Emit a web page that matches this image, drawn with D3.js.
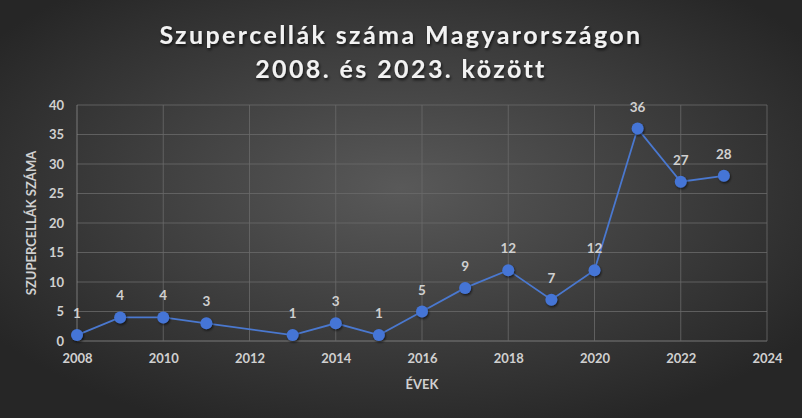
<!DOCTYPE html>
<html><head><meta charset="utf-8">
<script src="https://cdn.jsdelivr.net/npm/d3@7/dist/d3.min.js"></script>
<style>html,body{margin:0;padding:0;background:#333;}svg{display:block;}</style>
</head><body>
<script>
const years = [2008, 2009, 2010, 2011, 2013, 2014, 2015, 2016, 2017, 2018, 2019, 2020, 2021, 2022, 2023];
const counts = [1, 4, 4, 3, 1, 3, 1, 5, 9, 12, 7, 12, 36, 27, 28];
const xTicks = [2008, 2010, 2012, 2014, 2016, 2018, 2020, 2022, 2024];
const yTicks = [0, 5, 10, 15, 20, 25, 30, 35, 40];
const titleLines = ["Szupercellák száma Magyarországon", "2008. és 2023. között"];
const xTitle = "ÉVEK";
const yTitle = "SZUPERCELLÁK SZÁMA";

const W = 802, H = 418;
const svg = d3.select("body").append("svg").attr("width", W).attr("height", H);
const defs = svg.append("defs");
const rg = defs.append("radialGradient").attr("id", "bg").attr("cx", "50%").attr("cy", "45%").attr("r", "62%");
rg.append("stop").attr("offset", "0%").attr("stop-color", "#595959");
rg.append("stop").attr("offset", "100%").attr("stop-color", "#262626");
const sh = defs.append("filter").attr("id", "sh").attr("x", "-50%").attr("y", "-50%").attr("width", "200%").attr("height", "200%");
sh.append("feDropShadow").attr("dx", 1).attr("dy", 1.5).attr("stdDeviation", 1.2).attr("flood-color", "#000").attr("flood-opacity", 0.6);
const tsh = defs.append("filter").attr("id", "tsh").attr("x", "-10%").attr("y", "-30%").attr("width", "120%").attr("height", "160%");
tsh.append("feDropShadow").attr("dx", 1).attr("dy", 2).attr("stdDeviation", 1.5).attr("flood-color", "#000").attr("flood-opacity", 0.7);

svg.append("rect").attr("width", W).attr("height", H).attr("fill", "url(#bg)");

const font = "Lato, 'Open Sans', sans-serif";
const x = d3.scaleLinear().domain([2008, 2024]).range([77, 767]);
const y = d3.scaleLinear().domain([0, 40]).range([341, 105]);

// Title
const tt = svg.append("text").attr("text-anchor", "middle").attr("font-family", font)
  .attr("font-weight", "bold").attr("font-size", 25).attr("fill", "#f2f2f2")
  .attr("letter-spacing", 2.4).attr("filter", "url(#tsh)");
titleLines.forEach((t, i) => tt.append("tspan").attr("x", 401).attr("y", 44 + i * 34).text(t));

// Gridlines
const g = svg.append("g");
g.selectAll(".hg").data(yTicks).join("line")
  .attr("x1", x(2008)).attr("x2", x(2024)).attr("y1", d => y(d)).attr("y2", d => y(d))
  .attr("stroke", d => d === 0 ? "#8a8a8a" : "#6a6a6a").attr("stroke-width", 1).attr("opacity", 0.8);
g.selectAll(".vg").data(xTicks).join("line")
  .attr("x1", d => x(d)).attr("x2", d => x(d)).attr("y1", y(40)).attr("y2", y(0))
  .attr("stroke", d => d === 2008 ? "#8a8a8a" : "#6a6a6a").attr("stroke-width", 1).attr("opacity", 0.8);

// Axes (via d3 axes, domain hidden)
const xAxis = svg.append("g").attr("transform", `translate(0,${y(0)})`)
  .call(d3.axisBottom(x).tickValues(xTicks).tickFormat(d3.format("d")).tickSize(0).tickPadding(13));
const yAxis = svg.append("g").attr("transform", `translate(${x(2008)},0)`)
  .call(d3.axisLeft(y).tickValues(yTicks).tickSize(0).tickPadding(13));
[xAxis, yAxis].forEach(a => {
  a.select(".domain").remove();
  a.selectAll("text").attr("font-family", font).attr("font-weight", "bold")
    .attr("font-size", 13).attr("fill", "#d0d0d0");
});

// Axis titles
svg.append("text").attr("x", x(2016)).attr("y", 389).attr("text-anchor", "middle")
  .attr("font-family", font).attr("font-weight", "bold").attr("font-size", 13)
  .attr("fill", "#d0d0d0").text(xTitle);
svg.append("text").attr("transform", `translate(36,${y(20)}) rotate(-90)`).attr("text-anchor", "middle")
  .attr("font-family", font).attr("font-weight", "bold").attr("font-size", 13)
  .attr("fill", "#d0d0d0").text(yTitle);

// Line
const data = years.map((yr, i) => ({yr, v: counts[i]}));
svg.append("path").datum(data)
  .attr("d", d3.line().x(d => x(d.yr)).y(d => y(d.v)))
  .attr("fill", "none").attr("stroke", "#4a78cf").attr("stroke-width", 1.8);

svg.selectAll(".pt").data(data).join("circle")
  .attr("cx", d => x(d.yr)).attr("cy", d => y(d.v)).attr("r", 6)
  .attr("fill", "#4575d6").attr("filter", "url(#sh)");

svg.selectAll(".lbl").data(data).join("text")
  .attr("x", d => x(d.yr)).attr("y", d => y(d.v) - 17).attr("text-anchor", "middle")
  .attr("font-family", font).attr("font-weight", "bold").attr("font-size", 13.5)
  .attr("fill", "#d0d0d0").text(d => d.v);
</script>
</body></html>
